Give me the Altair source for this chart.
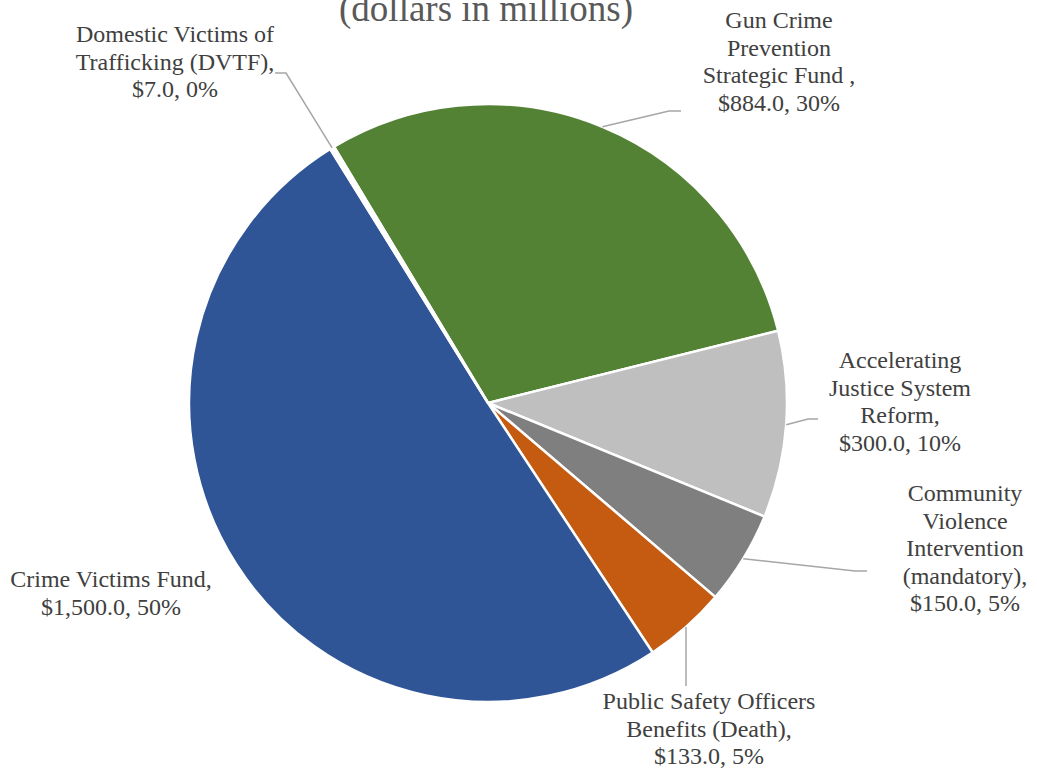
import math
import altair as alt
import pandas as pd

# ---------------- data ----------------
names = [
    "Gun Crime Prevention Strategic Fund",
    "Accelerating Justice System Reform",
    "Community Violence Intervention (mandatory)",
    "Public Safety Officers Benefits (Death)",
    "Crime Victims Fund",
    "Domestic Victims of Trafficking (DVTF)",
]
values = [884.0, 300.0, 150.0, 133.0, 1500.0, 7.0]
pct_labels = ["30%", "10%", "5%", "5%", "50%", "0%"]
label_lines = [
    ["Gun Crime", "Prevention", "Strategic Fund ,"],
    ["Accelerating", "Justice System", "Reform,"],
    ["Community", "Violence", "Intervention", "(mandatory),"],
    ["Public Safety Officers", "Benefits (Death),"],
    ["Crime Victims Fund,"],
    ["Domestic Victims of", "Trafficking (DVTF),"],
]
subtitle = "(dollars in millions)"

# ---------------- styles / layout ----------------
colors = ["#548235", "#BFBFBF", "#7F7F7F", "#C55A11", "#2F5597", "#FFFFFF"]
W, H = 1037, 772
CX, CY, R = 488, 403, 299
START_DEG = -31.0
# (center x, first-line center y) of each label block
label_anchors = [(779, 21), (900, 361), (965, 494), (709, 702), (111, 580), (175, 35)]
leader_paths = [
    [(669, 111), (681, 111)],
    [(808, 419), (818, 419)],
    [(855, 571), (867, 571)],
    [(686, 686)],
    None,
    [(286, 73), (275, 73)],
]
FONT = "Liberation Serif"
TEXT_COLOR = "#404040"

# ---------------- build tables ----------------
total = sum(values)
slices = pd.DataFrame({
    "name": names,
    "value": values,
    "order": list(range(len(names))),
})

labels = []
lines = []
cum = 0.0
for i, (n, v) in enumerate(zip(names, values)):
    mid = math.radians(START_DEG + (cum + v / 2) / total * 360.0)
    cum += v
    txt = label_lines[i] + ["${:,.1f}, {}".format(v, pct_labels[i])]
    labels.append({"name": n, "text": "\n".join(txt),
                   "x": label_anchors[i][0], "y": label_anchors[i][1]})
    if leader_paths[i] is not None:
        pts = [(CX + R * math.sin(mid), CY - R * math.cos(mid))] + leader_paths[i]
        for k, (px, py) in enumerate(pts):
            lines.append({"name": n, "seq": k, "x": px, "y": py})

labels_df = pd.DataFrame(labels)
lines_df = pd.DataFrame(lines)

xs = alt.Scale(domain=[0, W], range=[0, W])
ys = alt.Scale(domain=[0, H], range=[0, H])

pie = alt.Chart(slices).mark_arc(outerRadius=R, stroke="white", strokeWidth=2.5).encode(
    theta=alt.Theta("value:Q", stack=True,
                    scale=alt.Scale(range=[math.radians(START_DEG),
                                           math.radians(START_DEG) + 2 * math.pi])),
    color=alt.Color("name:N", scale=alt.Scale(domain=names, range=colors), legend=None),
    order=alt.Order("order:Q", sort="ascending"),
    x=alt.value(CX),
    y=alt.value(CY),
)

leaders = alt.Chart(lines_df).mark_line(color="#A6A6A6", strokeWidth=1.5).encode(
    x=alt.X("x:Q", scale=xs, axis=None),
    y=alt.Y("y:Q", scale=ys, axis=None),
    detail="name:N",
    order="seq:Q",
)

text = alt.Chart(labels_df).mark_text(
    font=FONT, fontSize=24, color=TEXT_COLOR, align="center", baseline="middle",
    lineBreak="\n", lineHeight=27.5,
).encode(
    x=alt.X("x:Q", scale=xs, axis=None),
    y=alt.Y("y:Q", scale=ys, axis=None),
    text="text:N",
)

title = alt.Chart(pd.DataFrame({"t": [subtitle]})).mark_text(
    font=FONT, fontSize=37, color="#595959", align="center", baseline="alphabetic",
).encode(x=alt.value(486), y=alt.value(21), text="t:N")

chart = alt.layer(pie, leaders, text, title).properties(
    width=W, height=H, autosize=alt.AutoSizeParams(type="none"), padding=0,
    background="white",
).configure_view(stroke=None)

chart.save("out.html", embed_options={"renderer": "svg", "actions": False})
